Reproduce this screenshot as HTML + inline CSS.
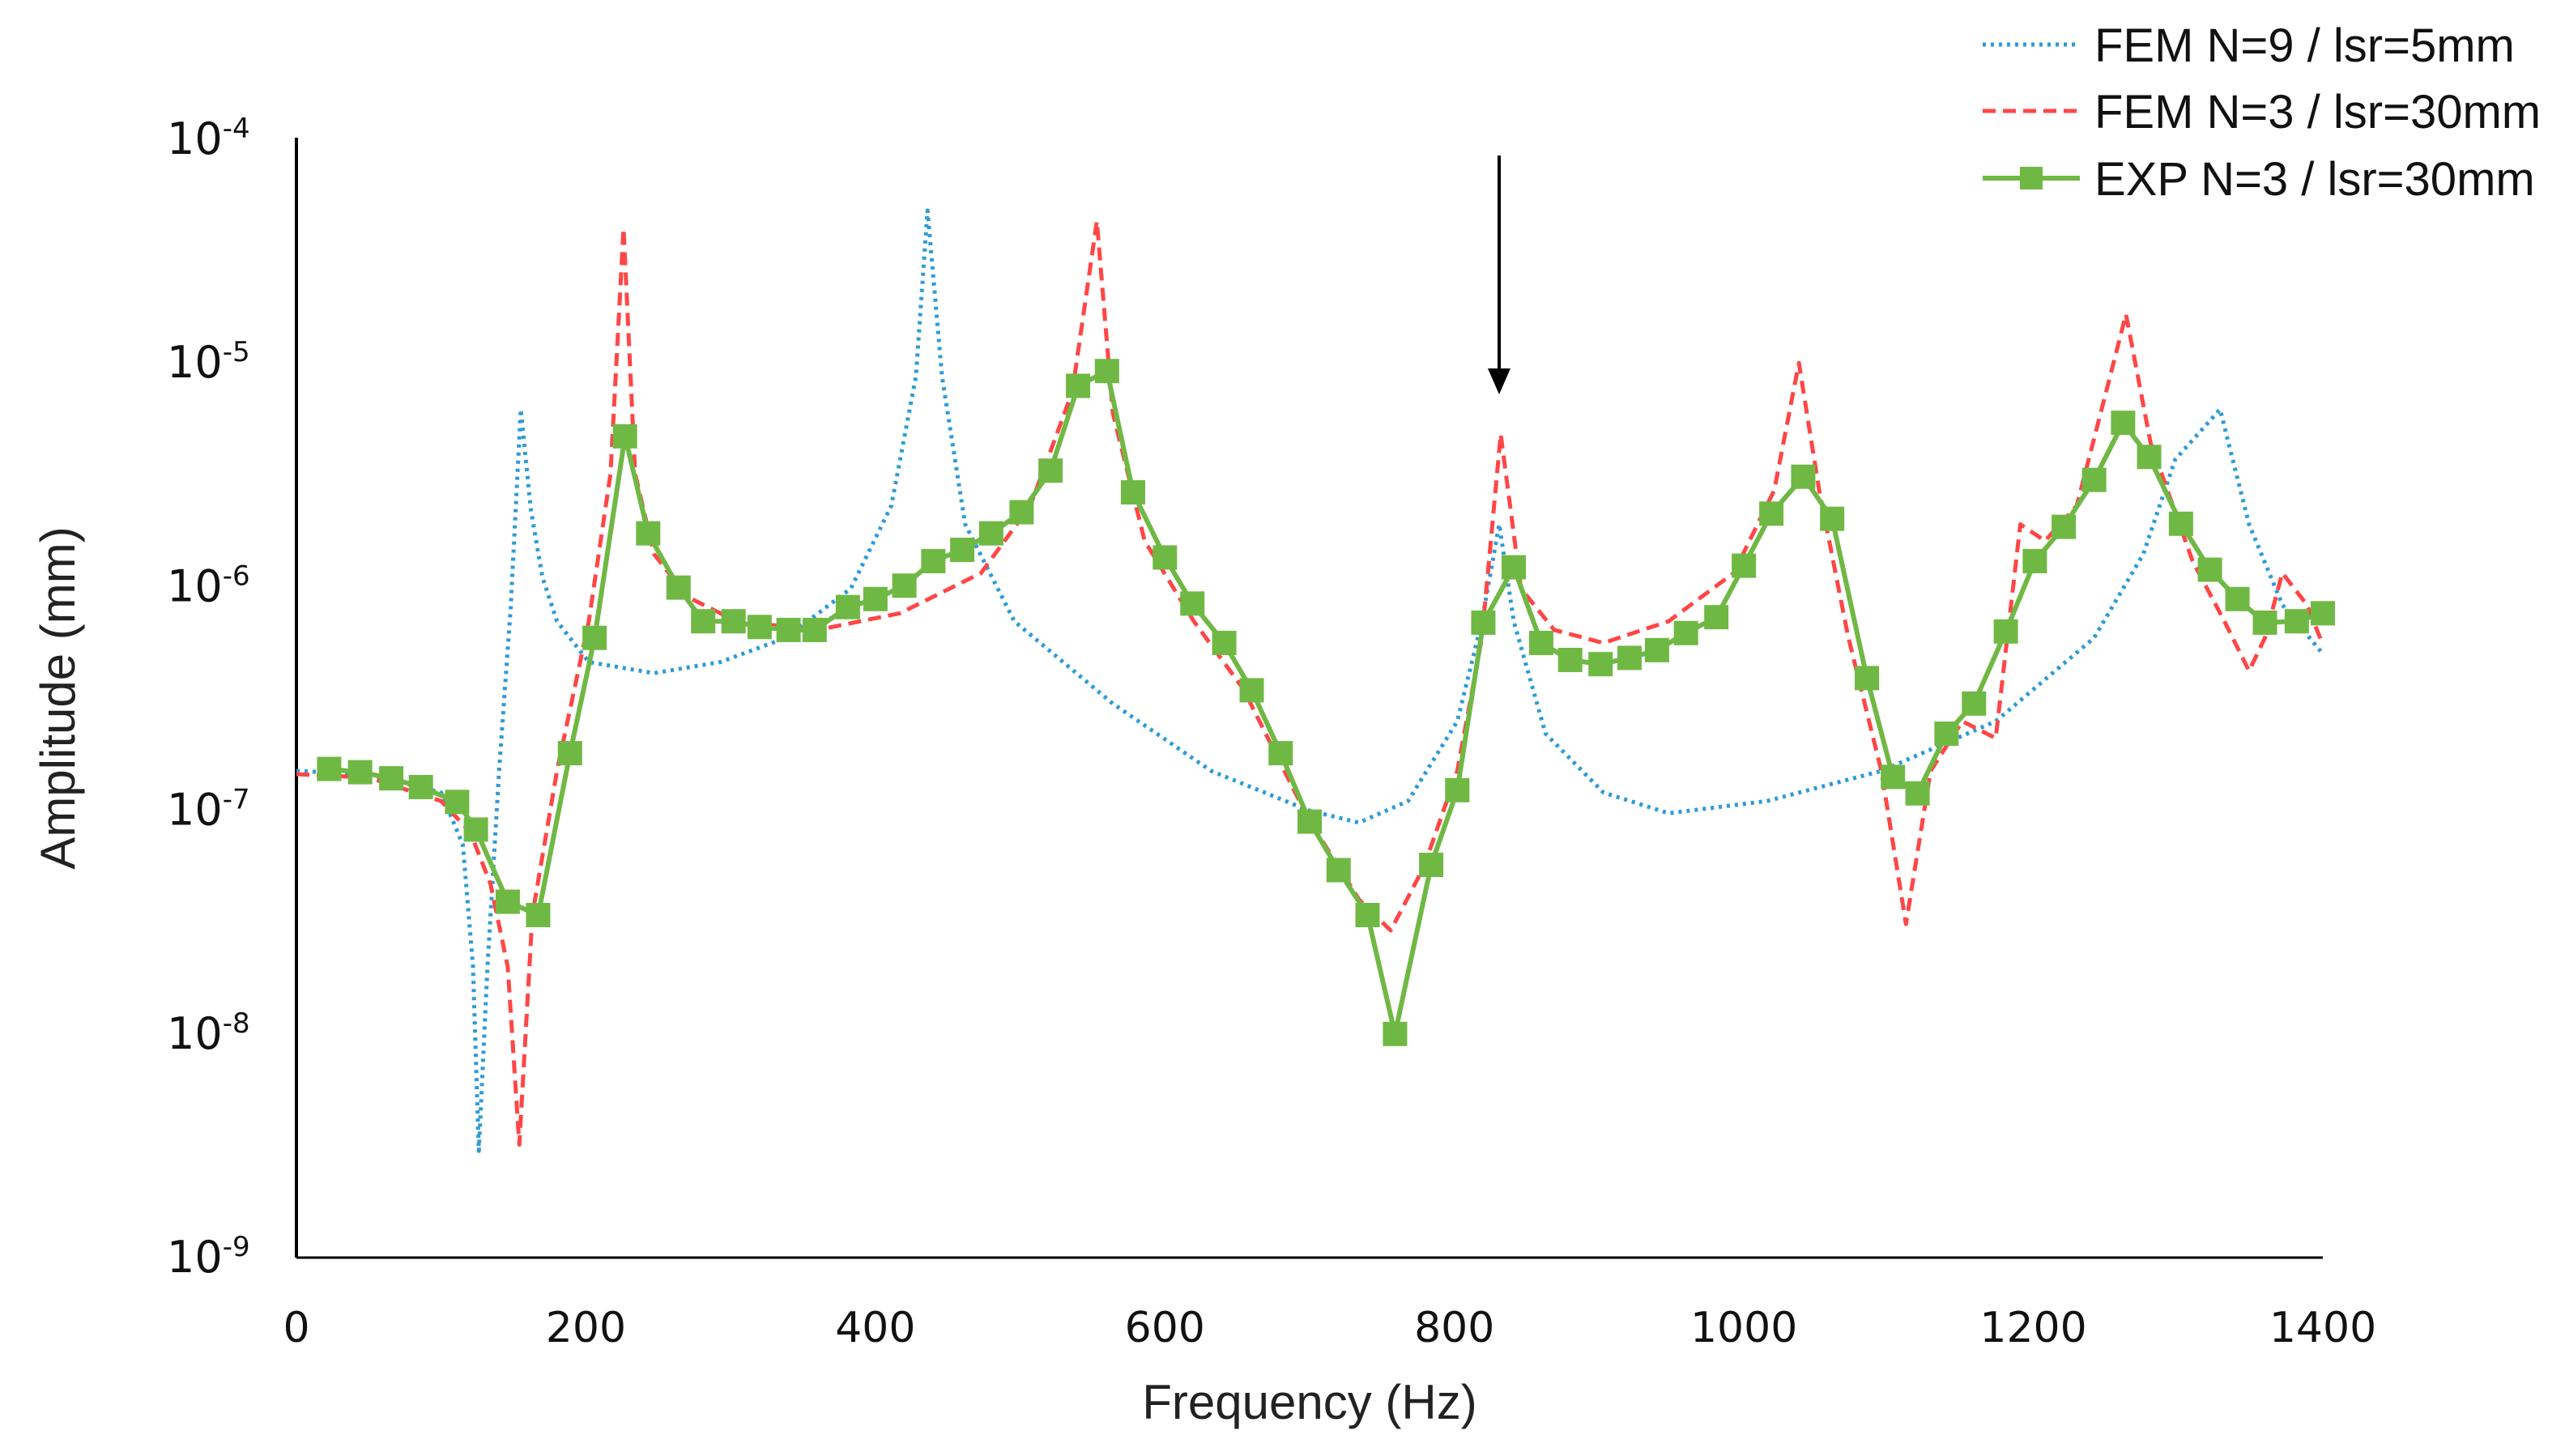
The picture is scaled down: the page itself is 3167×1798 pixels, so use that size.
<!DOCTYPE html>
<html><head><meta charset="utf-8"><style>
html,body{margin:0;padding:0;background:#fff;}
svg{display:block;}
</style></head><body>
<svg id="chart" width="3167" height="1798" viewBox="0 0 3167 1798" xmlns="http://www.w3.org/2000/svg">
<g id="plot"></g>
</svg>
<script>
const xTicks = [0,200,400,600,800,1000,1200,1400];
const yTickExps = [-4,-5,-6,-7,-8,-9];
const expFreq = [22.6,44,65.5,86,111,124,146,167,189,206,227,243,264,281,302,320,340,358,381,400,420,440,460,480,501,521,540,560,578,600,619,641,660,680,700,720,740,759,784,802,820,841,860,880,901,921,940,960,981,1000,1019,1041,1061,1085,1103,1120,1140,1159,1181,1201,1221,1242,1262,1280,1302,1322,1341,1360,1382,1400];
const expAmp = [1.53e-7,1.48e-7,1.39e-7,1.27e-7,1.09e-7,8.2e-8,3.9e-8,3.4e-8,1.8e-7,5.9e-7,4.7e-6,1.73e-6,9.9e-7,7.0e-7,7.0e-7,6.6e-7,6.4e-7,6.4e-7,8.1e-7,8.8e-7,1.01e-6,1.30e-6,1.46e-6,1.73e-6,2.15e-6,3.3e-6,7.9e-6,9.2e-6,2.64e-6,1.35e-6,8.4e-7,5.6e-7,3.44e-7,1.8e-7,8.9e-8,5.4e-8,3.4e-8,1.0e-8,5.7e-8,1.23e-7,6.9e-7,1.22e-6,5.6e-7,4.7e-7,4.5e-7,4.8e-7,5.2e-7,6.2e-7,7.3e-7,1.24e-6,2.12e-6,3.1e-6,2.01e-6,3.9e-7,1.41e-7,1.19e-7,2.2e-7,3.0e-7,6.3e-7,1.30e-6,1.85e-6,3.0e-6,5.4e-6,3.8e-6,1.91e-6,1.19e-6,8.8e-7,6.9e-7,7.0e-7,7.6e-7];
const fem9Freq = [0,50,100,115,122,126,132,140,148,155,162,170,180,202,247,293,338,383,411,428,436,446,462,496,564,632,699,734,768,802,819,831,841,863,903,948,1016,1095,1174,1242,1276,1298,1329,1349,1372,1400];
const fem9Amp = [1.5e-7,1.45e-7,1.2e-7,7e-8,2e-8,3e-9,2e-8,1.5e-7,8e-7,6.2e-6,2.2e-6,1.1e-6,7e-7,4.6e-7,4.1e-7,4.6e-7,5.9e-7,9.8e-7,2.3e-6,8.7e-6,4.8e-5,8.7e-6,1.9e-6,7e-7,3e-7,1.5e-7,1.0e-7,8.8e-8,1.1e-7,2.5e-7,7e-7,1.9e-6,7e-7,2.2e-7,1.2e-7,9.7e-8,1.1e-7,1.5e-7,2.5e-7,5.9e-7,1.4e-6,3.7e-6,6.2e-6,1.9e-6,8.3e-7,5e-7];
const fem3Freq = [0,50,100,120,134,146,154,163,180,202,217,226,234,247,270,304,360,417,473,507,536,553,564,586,620,654,699,734,756,779,802,819,832,846,869,903,948,993,1021,1038,1052,1072,1095,1112,1129,1151,1174,1191,1208,1230,1253,1264,1281,1310,1332,1349,1360,1372,1389,1400];
const fem3Amp = [1.45e-7,1.4e-7,1.1e-7,8e-8,4.7e-8,2e-8,3.2e-9,3.4e-8,1.5e-7,7e-7,3.2e-6,4e-5,3.2e-6,1.4e-6,9e-7,7e-7,6.4e-7,7.6e-7,1.15e-6,2.3e-6,7.4e-6,4.3e-5,6e-6,1.6e-6,7e-7,3.5e-7,9.2e-8,4e-8,2.9e-8,5.6e-8,1.5e-7,5.9e-7,4.8e-6,9.8e-7,6.4e-7,5.6e-7,7e-7,1.15e-6,2.7e-6,1.0e-5,2.7e-6,6e-7,1.5e-7,3.1e-8,1.5e-7,2.5e-7,2.1e-7,1.9e-6,1.6e-6,2.3e-6,8.7e-6,1.65e-5,4.4e-6,1.3e-6,7e-7,4.2e-7,5.9e-7,1.15e-6,8.3e-7,5.5e-7];

const NS='http://www.w3.org/2000/svg';
const L=366,R=2868,T=172,B=1553;
const xS=f=>L+(f-0)/(1400-0)*(R-L);
const yS=v=>T+(-4-Math.log10(v))/5*(B-T);
const g=document.getElementById('plot');
function mk(tag,attrs,parent){const e=document.createElementNS(NS,tag);for(const k in attrs)e.setAttribute(k,attrs[k]);(parent||g).appendChild(e);return e;}

let ax=mk('line',{x1:L,y1:T-2,x2:L,y2:B,stroke:'#000','stroke-width':4});


ax=mk('line',{x1:L,y1:B,x2:R,y2:B,stroke:'#000','stroke-width':3});



xTicks.forEach(t=>{
  const e=mk('text',{x:xS(t),y:1657,'text-anchor':'middle','font-family':'DejaVu Sans, sans-serif','font-size':52,fill:'#111'});
  e.textContent=t;
  
  
});
yTickExps.forEach(p=>{
  const y=yS(Math.pow(10,p));
  const e=mk('text',{x:206,y:y+18,'font-family':'DejaVu Sans, sans-serif','font-size':54,fill:'#111'});
  
  
  const a=document.createElementNS(NS,'tspan');a.textContent='10';e.appendChild(a);
  const b=document.createElementNS(NS,'tspan');b.setAttribute('dy',-20);b.setAttribute('font-size',34);b.textContent=String(p);e.appendChild(b);
});

let t=mk('text',{x:1617,y:1752,'text-anchor':'middle','font-family':'Liberation Sans, sans-serif','font-size':60,fill:'#222'});
t.textContent='Frequency (Hz)';


t=mk('text',{x:0,y:0,'text-anchor':'middle','font-family':'Liberation Sans, sans-serif','font-size':60,fill:'#222',transform:'translate(92,862) rotate(-90)'});
t.textContent='Amplitude (mm)';



function pts(F,A){return F.map((f,i)=>xS(f).toFixed(1)+','+yS(A[i]).toFixed(1)).join(' ');}
let s=mk('polyline',{points:pts(fem9Freq,fem9Amp),fill:'none',stroke:'#2e9bd6','stroke-width':5,'stroke-dasharray':'4 6','stroke-linejoin':'round'});


s=mk('polyline',{points:pts(fem3Freq,fem3Amp),fill:'none',stroke:'#ff4646','stroke-width':5,'stroke-dasharray':'16 9','stroke-linejoin':'round'});


s=mk('polyline',{points:pts(expFreq,expAmp),fill:'none',stroke:'#70b844','stroke-width':6,'stroke-linejoin':'round'});


expFreq.forEach((f,i)=>{
  const m=mk('rect',{x:xS(f)-15,y:yS(expAmp[i])-15,width:30,height:30,fill:'#70b844'});
  
  
});

let a=mk('line',{x1:1851,y1:192,x2:1851,y2:460,stroke:'#000','stroke-width':4});


a=mk('polygon',{points:'1837,455 1865,455 1851,487',fill:'#000'});



const lg=mk('g',{});


const legendLabels=['FEM N=9 / lsr=5mm','FEM N=3 / lsr=30mm','EXP N=3 / lsr=30mm'];
const legendY=[55,137,220];
let e=mk('line',{x1:2448,y1:55,x2:2565,y2:55,stroke:'#2e9bd6','stroke-width':5,'stroke-dasharray':'4 6'},lg);


e=mk('line',{x1:2448,y1:137,x2:2568,y2:137,stroke:'#ff4646','stroke-width':5,'stroke-dasharray':'16 9'},lg);


e=mk('line',{x1:2448,y1:220,x2:2568,y2:220,stroke:'#70b844','stroke-width':6},lg);


e=mk('rect',{x:2494,y:206,width:28,height:28,fill:'#70b844'},lg);


legendLabels.forEach((lab,i)=>{
  const tx=mk('text',{x:2586,y:legendY[i]+21,'font-family':'Liberation Sans, sans-serif','font-size':58,fill:'#111'},lg);
  tx.textContent=lab;
  
  
});
</script>
</body></html>
